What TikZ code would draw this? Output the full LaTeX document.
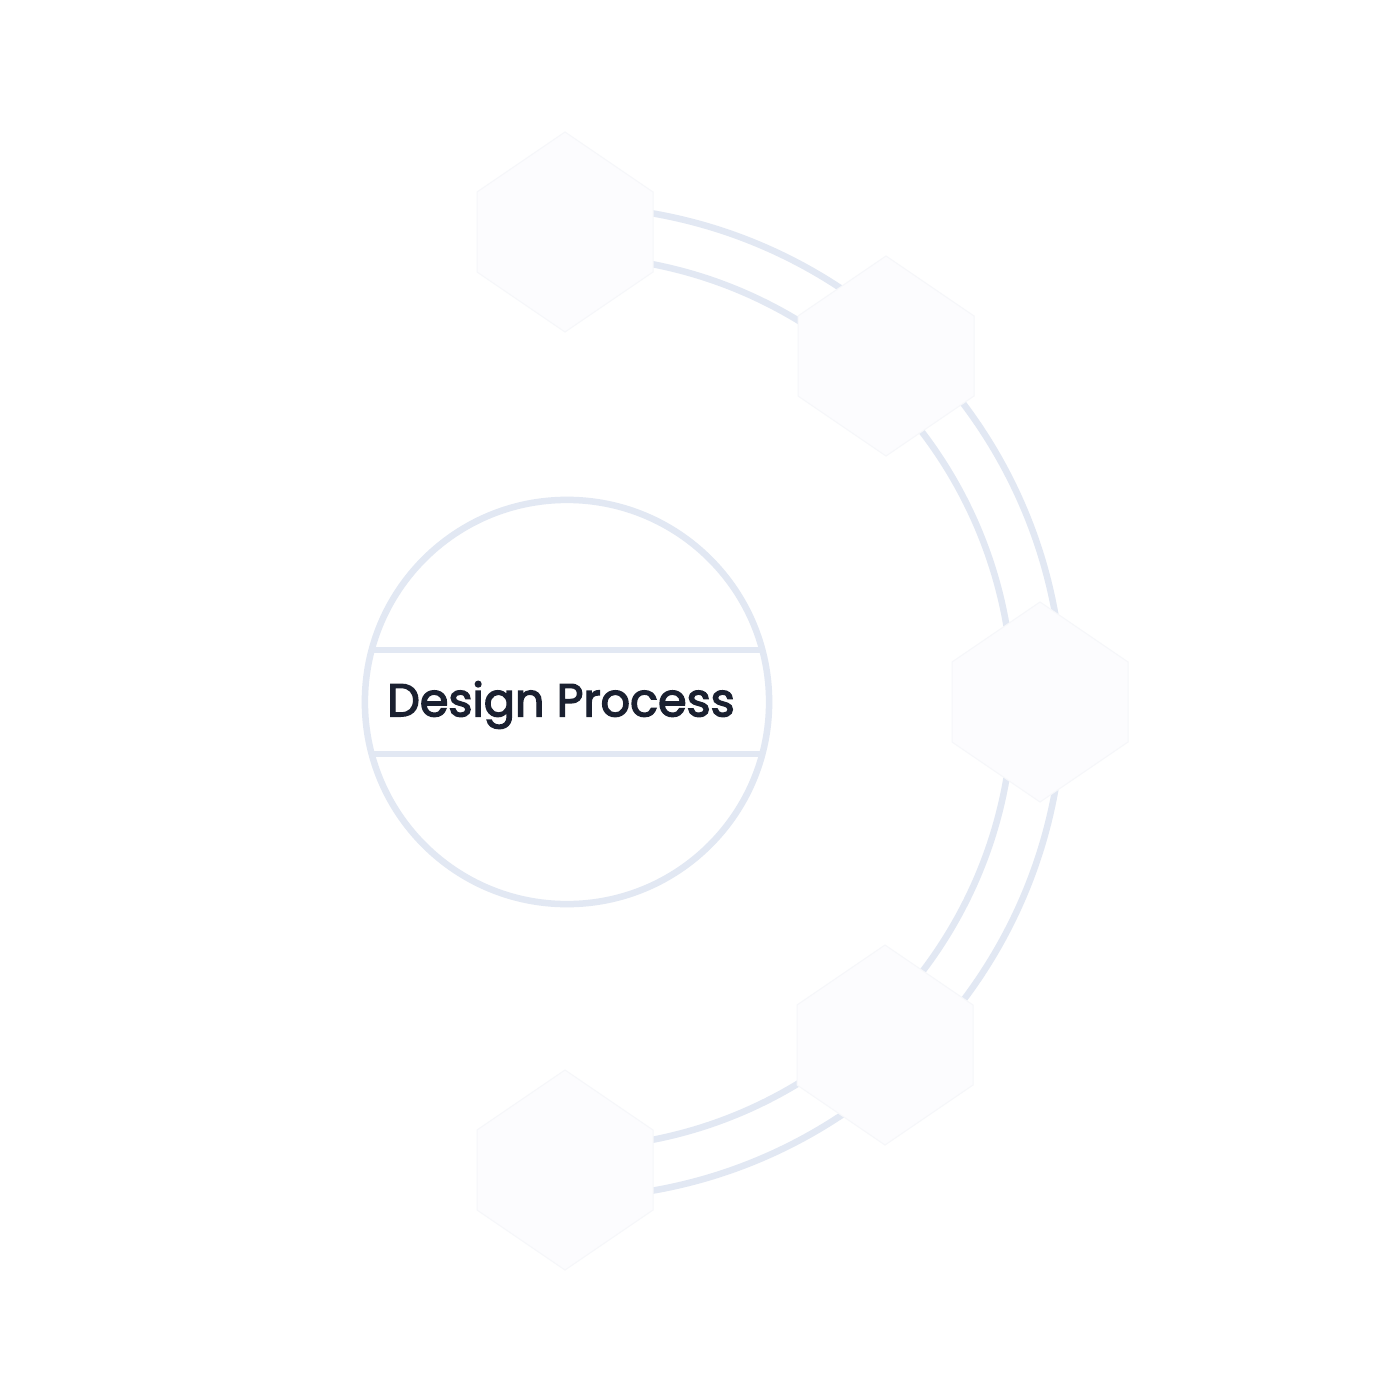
\documentclass[tikz,border=0pt]{standalone}
\usepackage{fontspec}
\newfontfamily\pop{Poppins}[FakeBold=3]
\definecolor{ring}{RGB}{226,232,243}
\definecolor{hexf}{RGB}{252,252,254}
\definecolor{hexl}{RGB}{246,247,250}
\definecolor{txt}{RGB}{26,32,48}
\begin{document}
\begin{tikzpicture}[x=0.01cm,y=-0.01cm,
  ringline/.style={draw=ring,line width=0.065cm},
  hexnode/.style={inner sep=0pt,minimum size=0pt},
  hexshape/.style={fill=hexf,draw=hexl,line width=0.01cm},
  title/.style={font=\pop\fontsize{13.1}{16}\selectfont,text=txt}]
\useasboundingbox (0,0) rectangle (1400,1400);
\fill[white] (0,0) rectangle (1400,1400);
\coordinate (c) at (567,702);
% arcs
\draw[ringline] (c) ++(-90:496) arc[start angle=-90,end angle=90,radius=496];
\draw[ringline] (c) ++(-90:446) arc[start angle=-90,end angle=90,radius=446];
% hexagons
\foreach \n/\p in {h1/{(565,232)},h2/{(886,356)},h3/{(1040,702)},h4/{(885,1045)},h5/{(565,1170)}}{
  \node[hexnode] (\n) at \p {};
  \path[hexshape] (\n) ++(0,-100) -- ++(88,60) -- ++(0,80) -- ++(-88,60) -- ++(-88,-60) -- ++(0,-80) -- cycle;
}
% center circle
\node[circle,draw=ring,line width=0.065cm,fill=white,minimum size=4.04cm,inner sep=0pt] (core) at (c) {};
\draw[ringline] (369,650) -- (765,650);
\draw[ringline] (369,754) -- (765,754);
\node[title] (t) at (561,705) {Design Process};
\end{tikzpicture}
\end{document}
